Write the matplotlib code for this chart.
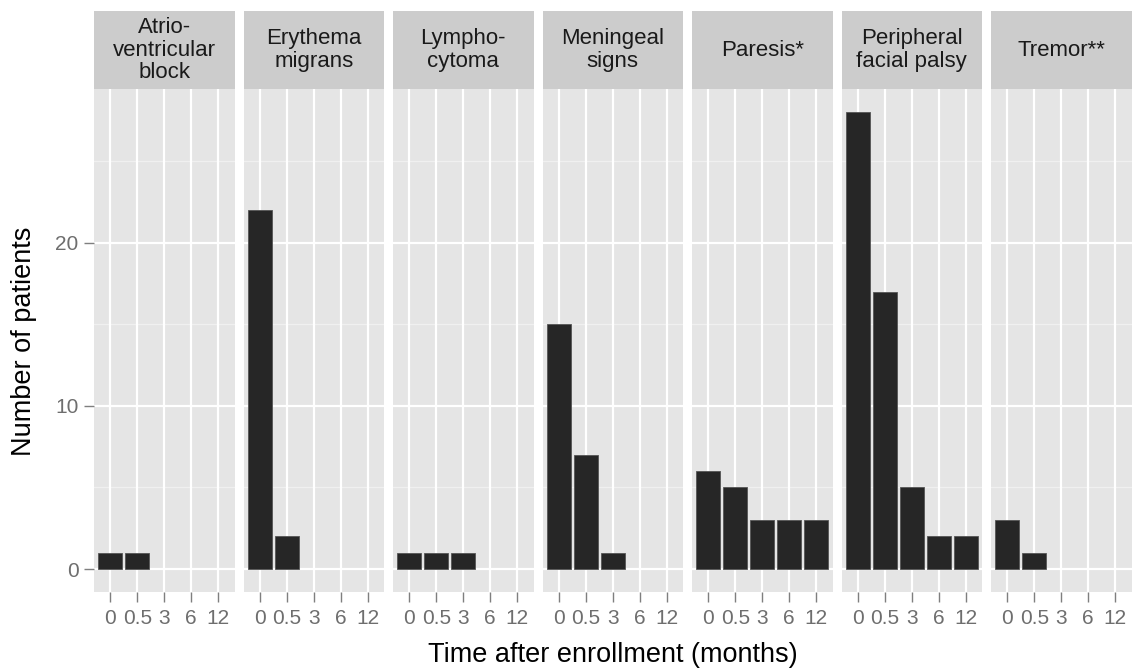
import matplotlib
matplotlib.use("Agg")
import matplotlib.pyplot as plt
import numpy as np

plt.rcParams['font.family'] = ['Liberation Sans', 'DejaVu Sans']

facets = ["Atrio-\nventricular\nblock", "Erythema\nmigrans", "Lympho-\ncytoma",
          "Meningeal\nsigns", "Paresis*", "Peripheral\nfacial palsy", "Tremor**"]
time_labels = ["0", "0.5", "3", "6", "12"]
counts = {
    "Atrio-\nventricular\nblock": [1, 1, 0, 0, 0],
    "Erythema\nmigrans": [22, 2, 0, 0, 0],
    "Lympho-\ncytoma": [1, 1, 1, 0, 0],
    "Meningeal\nsigns": [15, 7, 1, 0, 0],
    "Paresis*": [6, 5, 3, 3, 3],
    "Peripheral\nfacial palsy": [28, 17, 5, 2, 2],
    "Tremor**": [3, 1, 0, 0, 0],
}
y_ticks = [0, 10, 20]
y_minor = [5, 15, 25]

W, H = 1132, 671
fig = plt.figure(figsize=(W / 100, H / 100), dpi=100)
fig.patch.set_facecolor('white')

ymax_data = max(max(v) for v in counts.values())
ylim = (-0.05 * ymax_data, 1.05 * ymax_data)

left0, step, pw = 94, 149.5, 140.5
pbot, ptop = 592, 89
stop = 11
x = np.arange(len(time_labels))

for i, name in enumerate(facets):
    l = left0 + i * step
    ax = fig.add_axes([l / W, (H - pbot) / H, pw / W, (pbot - ptop) / H])
    ax.set_facecolor('#e5e5e5')
    ax.set_xlim(-0.6, len(time_labels) - 1 + 0.6)
    ax.set_ylim(*ylim)
    for m in y_minor:
        ax.axhline(m, color='#f0f0f0', lw=0.9, zorder=0.5)
    for t in y_ticks:
        ax.axhline(t, color='white', lw=1.6, zorder=0.6)
    for xi in x:
        ax.axvline(xi, color='white', lw=1.6, zorder=0.6)
    vals = np.array(counts[name])
    mask = vals > 0
    ax.bar(x[mask], vals[mask], width=0.9, color='#262626', edgecolor='#555555',
           lw=0.6, zorder=2)
    for s in ax.spines.values():
        s.set_visible(False)
    ax.set_xticks(x)
    ax.set_xticklabels(time_labels)
    ax.tick_params(axis='x', length=7, width=1, color='#7f7f7f', labelsize=15,
                   labelcolor='#6e6e6e', pad=5)
    if i == 0:
        ax.set_yticks(y_ticks)
        ax.tick_params(axis='y', length=7, width=1, color='#7f7f7f', labelsize=15,
                       labelcolor='#6e6e6e', pad=4)
    else:
        ax.set_yticks([])
    # strip
    sax = fig.add_axes([l / W, (H - ptop) / H, pw / W, (ptop - stop) / H])
    sax.set_facecolor('#cccccc')
    sax.set_xticks([]); sax.set_yticks([])
    for s in sax.spines.values():
        s.set_visible(False)
    sax.text(0.5, 0.5, name, ha='center', va='center', fontsize=16,
             color='#1a1a1a', linespacing=1.1, transform=sax.transAxes)

fig.text(24 / W, 1 - 341 / H, "Number of patients", rotation=90, ha='center',
         va='center', fontsize=19.5, color='black')
fig.text((left0 + left0 + 6 * step + pw) / 2 / W, 1 - 655 / H,
         "Time after enrollment (months)", ha='center', va='center',
         fontsize=19.5, color='black')

fig.savefig('out.png', dpi=100)
